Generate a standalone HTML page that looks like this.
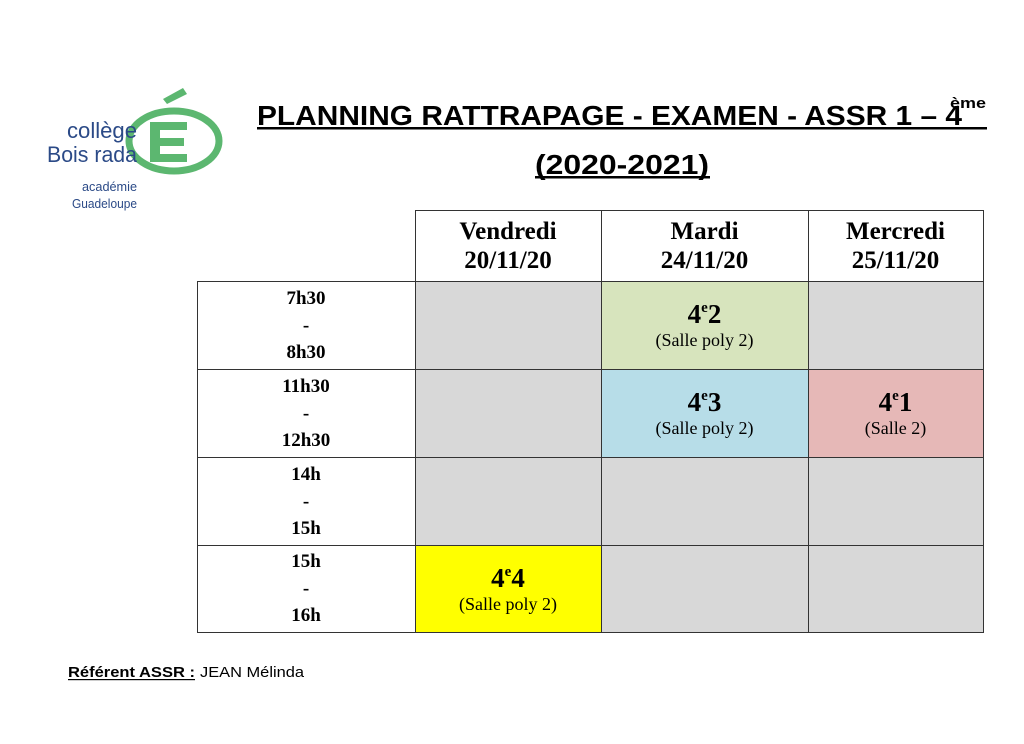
<!DOCTYPE html>
<html><head><meta charset="utf-8"><style>
body{margin:0;width:1024px;height:744px;background:#fff;position:relative;overflow:hidden;font-family:"Liberation Serif",serif;}
.c{position:absolute;box-sizing:border-box;display:flex;flex-direction:column;align-items:center;justify-content:center;text-align:center;color:#000;}
.h{font-weight:bold;font-size:25px;line-height:29px;}
.t{font-weight:bold;font-size:19px;line-height:27px;}
.k{font-weight:bold;font-size:27px;line-height:30px;}
.k sup{font-size:15px;vertical-align:11px;line-height:0}
.s{font-size:18px;line-height:22px;}
.ln{position:absolute;background:#333;}
</style></head><body>
<svg style="position:absolute;left:0;top:0" width="1024" height="744">
<g font-family="Liberation Sans, sans-serif" font-weight="bold" fill="#000">
<text x="257" y="125" font-size="28" textLength="705" lengthAdjust="spacingAndGlyphs">PLANNING RATTRAPAGE - EXAMEN - ASSR 1 – 4</text>
<text x="950" y="108" font-size="15" textLength="36" lengthAdjust="spacingAndGlyphs">ème</text>
<rect x="257" y="127" width="730" height="2.5"/>
<text x="535" y="174" font-size="28" textLength="174" lengthAdjust="spacingAndGlyphs">(2020-2021)</text>
<rect x="535" y="176" width="175" height="2.5"/>
</g>
<g>
<ellipse cx="174" cy="141" rx="45" ry="30" fill="none" stroke="#5cb770" stroke-width="7"/>
<polygon points="163,99 183,88 187,94 167,104" fill="#5cb770"/>
<rect x="150" y="122" width="10" height="40" fill="#5cb770"/>
<rect x="150" y="122" width="37" height="8" fill="#5cb770"/>
<rect x="150" y="138" width="34" height="8" fill="#5cb770"/>
<rect x="150" y="154" width="37" height="8" fill="#5cb770"/>
</g>
<g font-family="Liberation Sans, sans-serif" fill="#2b4a87">
<text x="67" y="138" font-size="22" textLength="70" lengthAdjust="spacingAndGlyphs">collège</text>
<text x="47" y="162" font-size="22" textLength="90" lengthAdjust="spacingAndGlyphs">Bois rada</text>
<text x="82" y="191" font-size="13" textLength="55" lengthAdjust="spacingAndGlyphs">académie</text>
<text x="72" y="208" font-size="13" textLength="65" lengthAdjust="spacingAndGlyphs">Guadeloupe</text>
</g>
<g font-family="Liberation Sans, sans-serif" font-size="15">
<text x="68" y="677" font-weight="bold" textLength="127" lengthAdjust="spacingAndGlyphs">Référent  ASSR :</text>
<rect x="68" y="679" width="127" height="1.2"/>
<text x="200" y="677" textLength="104" lengthAdjust="spacingAndGlyphs">JEAN Mélinda</text>
</g>
</svg>
<div class="c" style="left:415px;top:281px;width:186px;height:264px;background:#d8d8d8"></div>
<div class="c" style="left:601px;top:457px;width:382px;height:175px;background:#d8d8d8"></div>
<div class="c" style="left:808px;top:281px;width:175px;height:88px;background:#d8d8d8"></div>
<div class="c" style="left:601px;top:281px;width:207px;height:88px;background:#d7e4bd"><div class="k">4<sup>e</sup>2</div><div class="s">(Salle poly 2)</div></div>
<div class="c" style="left:601px;top:369px;width:207px;height:88px;background:#b7dde8"><div class="k">4<sup>e</sup>3</div><div class="s">(Salle poly 2)</div></div>
<div class="c" style="left:808px;top:369px;width:175px;height:88px;background:#e6b8b7"><div class="k">4<sup>e</sup>1</div><div class="s">(Salle 2)</div></div>
<div class="c" style="left:415px;top:545px;width:186px;height:87px;background:#ffff00"><div class="k">4<sup>e</sup>4</div><div class="s">(Salle poly 2)</div></div>
<div class="c h" style="left:415px;top:210px;width:186px;height:71px">Vendredi<br>20/11/20</div>
<div class="c h" style="left:601px;top:210px;width:207px;height:71px">Mardi<br>24/11/20</div>
<div class="c h" style="left:808px;top:210px;width:175px;height:71px">Mercredi<br>25/11/20</div>
<div class="c t" style="left:197px;top:281px;width:218px;height:88px">7h30<br>-<br>8h30</div>
<div class="c t" style="left:197px;top:369px;width:218px;height:88px">11h30<br>-<br>12h30</div>
<div class="c t" style="left:197px;top:457px;width:218px;height:88px">14h<br>-<br>15h</div>
<div class="c t" style="left:197px;top:545px;width:218px;height:87px">15h<br>-<br>16h</div>
<div class="ln" style="left:415px;top:210px;width:569px;height:1px"></div>
<div class="ln" style="left:197px;top:281px;width:787px;height:1px"></div>
<div class="ln" style="left:197px;top:369px;width:787px;height:1px"></div>
<div class="ln" style="left:197px;top:457px;width:787px;height:1px"></div>
<div class="ln" style="left:197px;top:545px;width:787px;height:1px"></div>
<div class="ln" style="left:197px;top:632px;width:787px;height:1px"></div>
<div class="ln" style="left:197px;top:281px;width:1px;height:352px"></div>
<div class="ln" style="left:415px;top:210px;width:1px;height:423px"></div>
<div class="ln" style="left:601px;top:210px;width:1px;height:423px"></div>
<div class="ln" style="left:808px;top:210px;width:1px;height:423px"></div>
<div class="ln" style="left:983px;top:210px;width:1px;height:423px"></div>
</body></html>
